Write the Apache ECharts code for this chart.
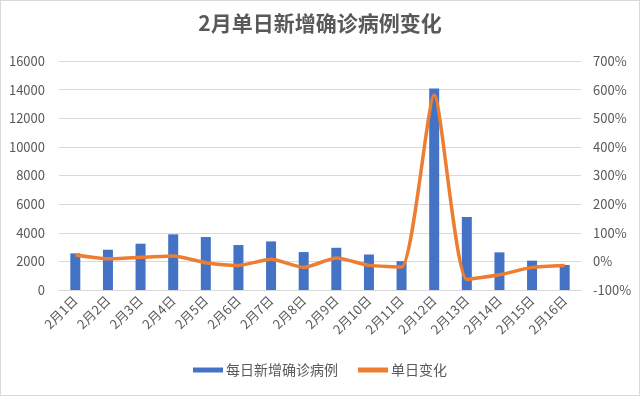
<!DOCTYPE html>
<html>
<head>
<meta charset="utf-8">
<script src="https://cdn.jsdelivr.net/npm/echarts@6/dist/echarts.min.js"></script>
<style>
html,body{margin:0;padding:0;background:#fff;}
#c{width:640px;height:396px;box-sizing:border-box;border:1px solid #d9d9d9;}
</style>
</head>
<body>
<div id="c"></div>
<script>
var categories = ['2月1日','2月2日','2月3日','2月4日','2月5日','2月6日','2月7日','2月8日','2月9日','2月10日','2月11日','2月12日','2月13日','2月14日','2月15日','2月16日'];
var newCases = [2560, 2815, 3235, 3890, 3700, 3140, 3395, 2650, 2950, 2480, 2015, 14080, 5100, 2630, 2050, 1750];
var dailyChange = [0.22, 0.09, 0.14, 0.19, -0.045, -0.14, 0.07, -0.21, 0.115, -0.14, -0.195, 5.8, -0.63, -0.47, -0.21, -0.14];
var leftTicks = {min: 0, max: 16000, interval: 2000};
var rightTicks = {min: -1, max: 7, interval: 1};

var font = '"Noto Sans CJK SC", "Noto Sans", sans-serif';
var chart = echarts.init(document.getElementById('c'));
chart.setOption({
  animation: false,
  textStyle: {fontFamily: font},
  title: {
    text: '2月单日新增确诊病例变化',
    left: 'center', top: 7,
    textStyle: {fontSize: 21, fontWeight: 'bold', color: '#595959', fontFamily: font}
  },
  legend: {
    bottom: 13, left: 'center', itemGap: 20,
    itemWidth: 30, itemHeight: 5,
    textStyle: {fontSize: 14, color: '#595959', fontFamily: font, padding: [0,0,0,-2]},
    data: [
      {name: '每日新增确诊病例', icon: 'rect'},
      {name: '单日变化', icon: 'rect', itemStyle: {color: '#ED7D31'}}
    ]
  },
  grid: {left: 58, right: 58, top: 60, bottom: 105},
  xAxis: {
    type: 'category', data: categories,
    axisLine: {show: true, lineStyle: {color: '#d9d9d9'}},
    axisTick: {show: false},
    axisLabel: {rotate: 45, interval: 0, fontSize: 13, color: '#595959', margin: 8, fontFamily: font}
  },
  yAxis: [
    {
      type: 'value', min: leftTicks.min, max: leftTicks.max, interval: leftTicks.interval,
      axisLine: {show: false}, axisTick: {show: false},
      axisLabel: {fontSize: 13, color: '#595959', margin: 14, fontFamily: font,
        formatter: function(v){ return String(v); }},
      splitLine: {lineStyle: {color: '#d9d9d9', width: 1}}
    },
    {
      type: 'value', min: rightTicks.min, max: rightTicks.max, interval: rightTicks.interval,
      axisLine: {show: false}, axisTick: {show: false},
      axisLabel: {fontSize: 13, color: '#595959', margin: 12, fontFamily: font,
        formatter: function(v){ return Math.round(v*100) + '%'; }},
      splitLine: {show: false}
    }
  ],
  series: [
    {
      name: '每日新增确诊病例', type: 'bar', data: newCases, yAxisIndex: 0,
      barWidth: 10, itemStyle: {color: '#4472C4'}
    },
    {
      name: '单日变化', type: 'line', data: dailyChange, yAxisIndex: 1,
      symbol: 'none', smooth: 0.2,
      lineStyle: {color: '#ED7D31', width: 3.5}, itemStyle: {color: '#ED7D31'}
    }
  ]
});
</script>
</body>
</html>
